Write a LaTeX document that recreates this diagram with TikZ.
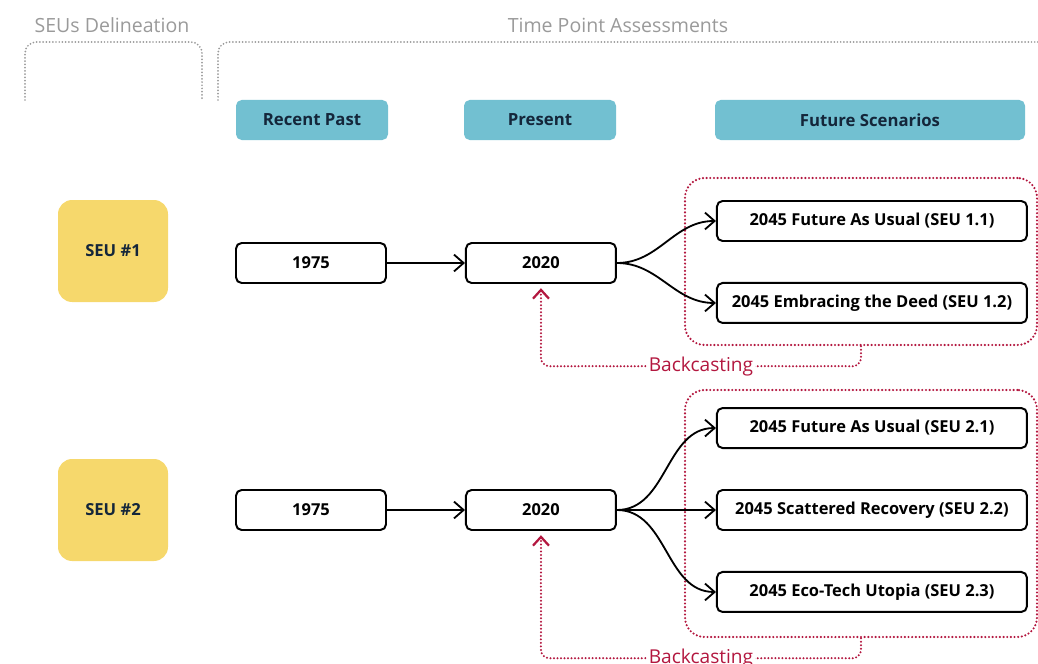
\documentclass[tikz,border=0pt]{standalone}
\usepackage{fontspec}
\setmainfont{Open Sans}
\usepackage{xcolor}
\usetikzlibrary{arrows.meta,positioning,fit}
\definecolor{headblue}{HTML}{72C0D1}
\definecolor{headtext}{HTML}{14263A}
\definecolor{seuyellow}{HTML}{F6D86C}
\definecolor{backred}{HTML}{B3173F}
\definecolor{labelgray}{HTML}{9A9A9A}

\begin{document}
\begin{tikzpicture}[
        node distance=1.95cm,
        head/.style={fill=headblue, rounded corners=4pt, minimum width=3.8cm, minimum height=1cm, text=headtext, font=\bfseries\fontsize{11.9}{14}\selectfont},
        seu/.style={fill=seuyellow, rounded corners=10pt, minimum width=2.75cm, minimum height=2.55cm, text=headtext, font=\bfseries\fontsize{11.8}{14}\selectfont},
        yearbox/.style={draw, line width=1.4pt, rounded corners=4pt, minimum width=3.75cm, minimum height=1cm, font=\bfseries\fontsize{11.7}{14}\selectfont},
        futbox/.style={yearbox, minimum width=7.75cm},
        grouplabel/.style={text=labelgray, font=\fontsize{13.9}{16}\selectfont},
        bracket/.style={labelgray, line width=1.4pt, dash pattern=on 0pt off 2.3pt, line cap=round, rounded corners=8pt},
        redframe/.style={draw=backred, line width=1.7pt, dash pattern=on 0pt off 2.6pt, line cap=round, rounded corners=14pt, inner sep=0pt},
        arr/.style={-{Straight Barb[length=2.4mm,width=4.2mm]}, line width=1.3pt},
        backarr/.style={backred, line width=1.6pt, dash pattern=on 0pt off 2.5pt, line cap=round, rounded corners=6pt, -{Straight Barb[length=2.2mm,width=4mm,line cap=butt]}}
    ]
    \useasboundingbox (0,0) rectangle (25.95,-16.6);

    % group labels and brackets
    \node[grouplabel] (lblseu) at (2.8,-0.625) {SEUs Delineation};
    \node[grouplabel] (lbltime) at (15.45,-0.625) {Time Point Assessments};
    \draw[bracket] (0.625,-2.5) |- (5.05,-1.05) -- (5.05,-2.5);
    \draw[bracket] (5.45,-2.5) |- (26.2,-1.05);

    % column headers
    \node[head] (hpast) at (7.8,-3.0) {Recent Past};
    \node[head] (hpres) at (13.5,-3.0) {Present};
    \node[head, minimum width=7.75cm] (hfut) at (21.75,-3.0) {Future Scenarios};

    % SEU 1
    \node[seu] (seu1) at (2.825,-6.275) {SEU \#1};
    \node[yearbox] (p1) at (7.775,-6.575) {1975};
    \node[yearbox, right=of p1] (n1) {2020};
    \node[futbox, right=2.475cm of n1, yshift=1.05cm] (f11) {2045 Future As Usual (SEU 1.1)};
    \node[futbox, below=1cm of f11] (f12) {2045 Embracing the Deed (SEU 1.2)};
    \node[redframe, fit={(17.125,-4.45) (25.925,-8.625)}] (bc1) {};
    \draw[arr] (p1) -- (n1);
    \draw[arr] (n1.east) to[out=0, in=180] (f11.west);
    \draw[arr] (n1.east) to[out=0, in=180] (f12.west);
    \draw[backarr] (bc1.south) -- ++(0,-0.5) -| node[pos=0.25, fill=white, inner sep=1.5pt, text=backred, font=\fontsize{13.6}{16}\selectfont] (bt1) {Backcasting} ([yshift=-3pt]n1.south);

    % SEU 2
    \node[seu] (seu2) at (2.825,-12.75) {SEU \#2};
    \node[yearbox] (p2) at (7.775,-12.75) {1975};
    \node[yearbox, right=of p2] (n2) {2020};
    \node[futbox, right=2.475cm of n2] (f22) {2045 Scattered Recovery (SEU 2.2)};
    \node[futbox, above=1cm of f22] (f21) {2045 Future As Usual (SEU 2.1)};
    \node[futbox, below=1cm of f22] (f23) {2045 Eco-Tech Utopia (SEU 2.3)};
    \node[redframe, fit={(17.125,-9.75) (25.925,-15.925)}] (bc2) {};
    \draw[arr] (p2) -- (n2);
    \draw[arr] (n2.east) to[out=0, in=180] (f21.west);
    \draw[arr] (n2) -- (f22);
    \draw[arr] (n2.east) to[out=0, in=180] (f23.west);
    \draw[backarr] (bc2.south) -- ++(0,-0.5) -| node[pos=0.25, fill=white, inner sep=1.5pt, text=backred, font=\fontsize{13.6}{16}\selectfont] (bt2) {Backcasting} ([yshift=-3pt]n2.south);
\end{tikzpicture}
\end{document}
